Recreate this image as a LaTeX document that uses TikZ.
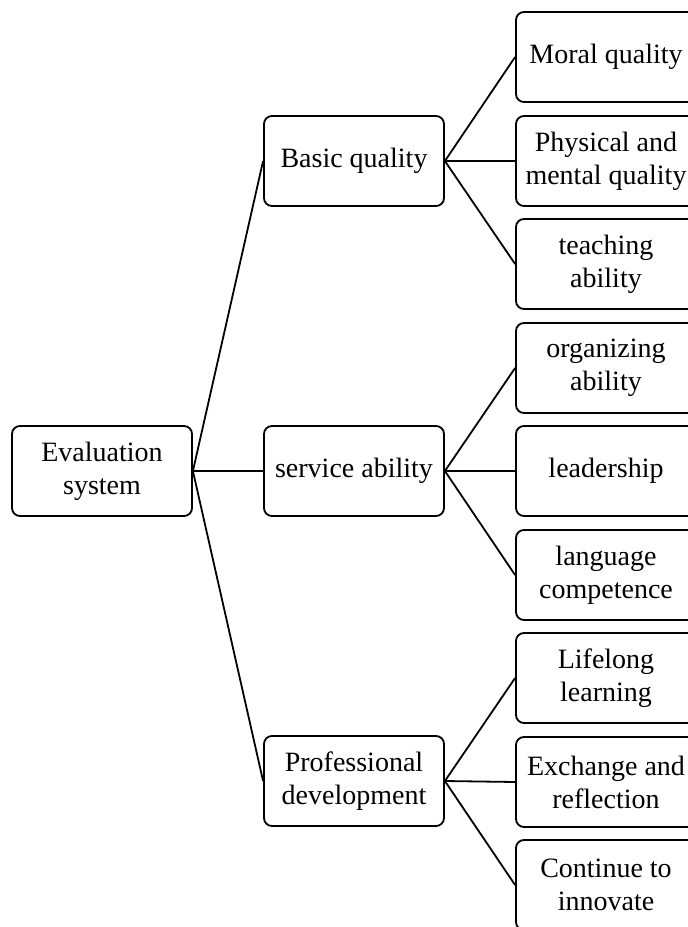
\documentclass[tikz,border=0pt]{standalone}
\usepackage{fontspec}
\setmainfont{Liberation Serif}
\begin{document}
\begin{tikzpicture}[x=1pt,y=-1pt,
  box/.style={draw, line width=1.8pt, rounded corners=8pt, minimum width=180pt, minimum height=90pt, inner sep=0pt, align=center, font=\fontsize{28}{33}\selectfont},
  link/.style={line width=1.8pt}]
\useasboundingbox (0,0) rectangle (688,927);
\clip (0,0) rectangle (688,927);
\node[box] (root) at (102,471) {Evaluation\\system};
\node[box] (b1) at (354,161) {Basic quality};
\node[box] (b2) at (354,471) {service ability};
\node[box] (b3) at (354,781) {Professional\\development};
\node[box] (c1) at (606,57) {Moral quality};
\node[box] (c2) at (606,161) {Physical and\\mental quality};
\node[box] (c3) at (606,264) {teaching\\ability};
\node[box] (c4) at (606,368) {organizing\\ability};
\node[box] (c5) at (606,471) {leadership};
\node[box] (c6) at (606,575) {language\\competence};
\node[box] (c7) at (606,678) {Lifelong\\learning};
\node[box] (c8) at (606,782) {Exchange and\\reflection};
\node[box] (c9) at (606,885) {Continue to\\innovate};
\foreach \p in {b1,b2,b3} \draw[link] (root.east) -- (\p.west);
\foreach \c in {c1,c2,c3} \draw[link] (b1.east) -- (\c.west);
\foreach \c in {c4,c5,c6} \draw[link] (b2.east) -- (\c.west);
\foreach \c in {c7,c8,c9} \draw[link] (b3.east) -- (\c.west);
\end{tikzpicture}
\end{document}
